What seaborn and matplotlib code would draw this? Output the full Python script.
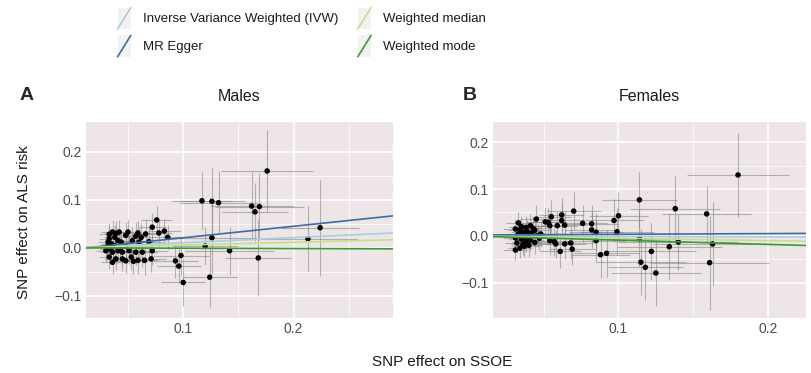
import numpy as np
import pandas as pd
import matplotlib
matplotlib.use("Agg")
import matplotlib.pyplot as plt
import seaborn as sns
from matplotlib.lines import Line2D
from matplotlib.patches import Rectangle
from matplotlib.legend_handler import HandlerBase

# ---- data ----
male_x = [0.176, 0.117, 0.126, 0.132, 0.162, 0.165, 0.169, 0.224, 0.213, 0.126,
          0.120, 0.142, 0.168, 0.093, 0.098, 0.096, 0.100, 0.124,
          0.076, 0.072, 0.083, 0.078, 0.086, 0.066, 0.059, 0.057, 0.050, 0.048,
          0.042, 0.036, 0.033, 0.038, 0.041, 0.044, 0.054, 0.060, 0.069, 0.035,
          0.032, 0.030, 0.036, 0.041, 0.045, 0.051, 0.057, 0.063, 0.072, 0.033,
          0.039, 0.045, 0.053, 0.059, 0.065, 0.071, 0.036, 0.031, 0.034, 0.038,
          0.043, 0.048, 0.033, 0.039, 0.062, 0.055, 0.048]
male_y = [0.160, 0.098, 0.097, 0.094, 0.087, 0.075, 0.086, 0.042, 0.019, 0.021,
          0.004, -0.006, -0.021, -0.027, -0.016, -0.038, -0.072, -0.061,
          0.058, 0.043, 0.035, 0.031, 0.022, 0.029, 0.031, 0.024, 0.033, 0.026,
          0.033, 0.033, 0.019, 0.022, 0.015, 0.012, 0.015, 0.012, 0.013, 0.008,
          0.012, -0.006, -0.009, -0.006, -0.009, -0.006, -0.009, -0.009, -0.006, -0.019,
          -0.023, -0.023, -0.019, -0.026, -0.026, -0.023, -0.030, 0.002, -0.002, 0.004,
          -0.001, 0.003, 0.028, 0.030, 0.022, -0.028, -0.027]
male_xerr = [0.042, 0.027, 0.030, 0.035, 0.038, 0.030, 0.040, 0.035, 0.045, 0.040,
             0.030, 0.040, 0.030, 0.020, 0.025, 0.020, 0.020, 0.025,
             0.014, 0.012, 0.015, 0.012, 0.012, 0.010, 0.012, 0.010, 0.010, 0.010,
             0.012, 0.010, 0.009, 0.010, 0.010, 0.011, 0.012, 0.012, 0.013, 0.009,
             0.009, 0.009, 0.010, 0.010, 0.011, 0.012, 0.012, 0.013, 0.014, 0.009,
             0.010, 0.011, 0.011, 0.012, 0.012, 0.013, 0.010, 0.009, 0.009, 0.010,
             0.010, 0.011, 0.009, 0.010, 0.012, 0.012, 0.011]
male_yerr = [0.085, 0.060, 0.070, 0.065, 0.070, 0.060, 0.070, 0.100, 0.068, 0.075,
             0.040, 0.050, 0.080, 0.035, 0.040, 0.035, 0.050, 0.062,
             0.030, 0.030, 0.025, 0.030, 0.025, 0.028, 0.025, 0.030, 0.025, 0.028,
             0.026, 0.024, 0.026, 0.025, 0.024, 0.026, 0.028, 0.030, 0.030, 0.024,
             0.025, 0.024, 0.025, 0.026, 0.025, 0.028, 0.026, 0.030, 0.030, 0.025,
             0.024, 0.026, 0.028, 0.028, 0.030, 0.028, 0.025, 0.024, 0.025, 0.024,
             0.025, 0.026, 0.024, 0.025, 0.030, 0.026, 0.026]

female_x = [0.180, 0.114, 0.138, 0.159, 0.100, 0.097, 0.099, 0.070, 0.082, 0.082,
            0.085, 0.076, 0.085, 0.088, 0.092, 0.114, 0.115, 0.118, 0.125, 0.122,
            0.134, 0.140, 0.161, 0.163,
            0.062, 0.062, 0.064, 0.055, 0.053, 0.051, 0.054, 0.059, 0.068, 0.069,
            0.064, 0.061, 0.058, 0.057, 0.054, 0.048, 0.045,
            0.033, 0.035, 0.031, 0.038, 0.041, 0.044, 0.036, 0.033, 0.039, 0.042,
            0.046, 0.031, 0.035, 0.038, 0.041, 0.044, 0.032, 0.036, 0.040, 0.034,
            0.031, 0.038, 0.043, 0.047, 0.034, 0.037, 0.039]
female_y = [0.130, 0.077, 0.058, 0.047, 0.043, 0.033, 0.009, 0.053, 0.026, 0.013,
            0.008, 0.027, -0.010, -0.040, -0.037, -0.006, -0.056, -0.067, -0.079, -0.033,
            -0.023, -0.013, -0.057, -0.017,
            0.045, 0.033, 0.023, 0.041, 0.029, 0.030, 0.022, 0.022, -0.015, -0.028,
            -0.017, -0.033, -0.017, -0.012, -0.010, 0.004, 0.036,
            0.028, 0.020, 0.015, 0.018, 0.022, 0.012, 0.008, 0.004, 0.002, 0.006,
            0.001, -0.004, -0.007, -0.003, -0.009, -0.014, -0.015, -0.018, -0.020, -0.026,
            -0.030, -0.012, 0.016, -0.005, 0.012, -0.022, 0.010]
female_xerr = [0.034, 0.025, 0.030, 0.030, 0.020, 0.020, 0.025, 0.018, 0.018, 0.018,
               0.018, 0.016, 0.020, 0.020, 0.022, 0.030, 0.030, 0.025, 0.030, 0.030,
               0.035, 0.040, 0.040, 0.040,
               0.015, 0.014, 0.015, 0.013, 0.012, 0.012, 0.012, 0.013, 0.015, 0.015,
               0.014, 0.014, 0.013, 0.013, 0.012, 0.011, 0.011,
               0.008, 0.008, 0.008, 0.009, 0.009, 0.010, 0.008, 0.008, 0.009, 0.009,
               0.010, 0.008, 0.008, 0.009, 0.009, 0.010, 0.008, 0.008, 0.009, 0.008,
               0.008, 0.009, 0.009, 0.010, 0.008, 0.009, 0.009]
female_yerr = [0.090, 0.060, 0.070, 0.060, 0.050, 0.045, 0.050, 0.040, 0.040, 0.038,
               0.040, 0.040, 0.045, 0.050, 0.050, 0.060, 0.070, 0.070, 0.070, 0.060,
               0.070, 0.060, 0.100, 0.090,
               0.035, 0.035, 0.030, 0.035, 0.030, 0.030, 0.030, 0.032, 0.035, 0.035,
               0.032, 0.035, 0.030, 0.030, 0.030, 0.028, 0.030,
               0.024, 0.022, 0.022, 0.024, 0.025, 0.025, 0.022, 0.022, 0.023, 0.024,
               0.025, 0.022, 0.022, 0.023, 0.024, 0.025, 0.022, 0.023, 0.024, 0.022,
               0.022, 0.023, 0.024, 0.025, 0.022, 0.023, 0.023]

methods = ["Inverse Variance Weighted (IVW)", "MR Egger", "Weighted median", "Weighted mode"]
method_colors = ["#A6CEE3", "#3F6BA8", "#C9DC8E", "#3A9A35"]
male_intercepts = [0.0, -0.003, 0.0, 0.0]
male_slopes = [0.107, 0.24, 0.058, -0.007]
female_intercepts = [0.0, 0.002, 0.0, 0.0]
female_slopes = [-0.01, 0.015, -0.05, -0.09]


class DiagHandler(HandlerBase):
    # ggplot style abline key: light box with a diagonal line
    def create_artists(self, legend, orig_handle, xdescent, ydescent,
                       width, height, fontsize, trans):
        bg = Rectangle((-xdescent, -ydescent), width, height,
                       facecolor="#F2F2F2", edgecolor="none", transform=trans)
        ln = Line2D([-xdescent, -xdescent + width], [-ydescent, -ydescent + height],
                    color=orig_handle.get_color(), lw=1.2, transform=trans)
        return [bg, ln]


sns.set_theme(style="darkgrid")
plt.rcParams["font.family"] = ["Liberation Sans", "DejaVu Sans"]

fig = plt.figure(figsize=(8.12, 3.73), dpi=100)
W, H = 812, 373
ax1 = fig.add_axes([86 / W, 1 - 318 / H, 307 / W, 196 / H])
ax2 = fig.add_axes([493 / W, 1 - 318 / H, 313 / W, 196 / H])

panels = [
    (ax1, male_x, male_y, male_xerr, male_yerr, male_intercepts, male_slopes,
     (0.012, 0.29), (-0.146, 0.262), "Males"),
    (ax2, female_x, female_y, female_xerr, female_yerr, female_intercepts, female_slopes,
     (0.016, 0.2255), (-0.175, 0.243), "Females"),
]

for ax, xs, ys, xe, ye, icpt, slp, xl, yl, title in panels:
    df = pd.DataFrame({"x": xs, "y": ys})
    ax.set_facecolor("#EEE6E6")
    ax.errorbar(xs, ys, xerr=xe, yerr=ye, fmt="none", ecolor="#808080",
                elinewidth=0.8, alpha=0.55, zorder=2)
    sns.scatterplot(data=df, x="x", y="y", ax=ax, color="black", s=16,
                    edgecolor="none", zorder=3)
    for a, b, c in zip(icpt, slp, method_colors):
        ax.axline((0, a), slope=b, color=c, lw=1.2, zorder=4)
    # ticks first: set_ticks may widen the view, limits are set after
    ax.set_xticks([0.1, 0.2])
    ax.set_xticks([0.05, 0.15, 0.25], minor=True)
    ax.set_yticks([-0.1, 0.0, 0.1, 0.2])
    ax.set_yticks([-0.05, 0.05, 0.15], minor=True)
    ax.set_xticklabels(["0.1", "0.2"])
    ax.set_yticklabels(["\u22120.1", "0.0", "0.1", "0.2"])
    ax.set_xlim(*xl)
    ax.set_ylim(*yl)
    ax.grid(which="major", color="white", lw=1.1)
    ax.grid(which="minor", color="white", lw=0.5)
    ax.tick_params(axis="both", which="both", labelsize=10, labelcolor="#4D4D4D",
                   length=0, pad=3)
    ax.set_xlabel("")
    ax.set_ylabel("")
    ax.set_title(title, fontsize=11.5, color="#1A1A1A", pad=15)
    for s in ax.spines.values():
        s.set_visible(False)

fig.text(20 / W, 1 - 96 / H, "A", fontsize=14, fontweight="bold", va="center")
fig.text(463 / W, 1 - 96 / H, "B", fontsize=14, fontweight="bold", va="center")
fig.text(24 / W, 1 - 222 / H, "SNP effect on ALS risk", rotation=90,
         fontsize=11, va="center", ha="center", color="#1A1A1A")
fig.text(442 / W, 1 - 362 / H, "SNP effect on SSOE", fontsize=11,
         ha="center", va="center", color="#1A1A1A")

handles = [Line2D([], [], color=c) for c in method_colors]
fig.legend(handles, methods, handler_map={Line2D: DiagHandler()},
           loc="upper left", bbox_to_anchor=(111 / W, 1 - 1 / H), ncol=2,
           frameon=False, fontsize=9.5, handlelength=1.0, handleheight=2.1,
           handletextpad=0.9, columnspacing=1.5, labelspacing=0.5,
           borderpad=0, labelcolor="#1A1A1A")

fig.savefig("out.png", dpi=100)
